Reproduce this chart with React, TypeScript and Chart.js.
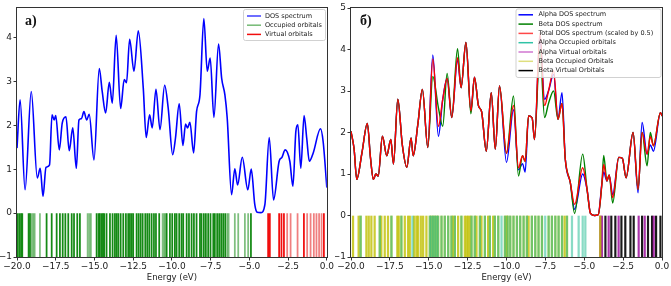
import React, { useEffect, useRef } from "react";
import { Chart, registerables } from "chart.js";

Chart.register(...registerables);
Chart.defaults.font.family = '"DejaVu Sans", sans-serif';

// ---------- Panel a) ----------
const leftEnergy = [-20, -19.8, -19.48, -19.08, -18.69, -18.5, -18.32, -18.13, -17.9, -17.74, -17.6, -17.5, -17.27, -17.08, -16.84, -16.63, -16.4, -16.17, -16.0, -15.84, -15.68, -15.5, -15.34, -15.03, -14.69, -14.5, -14.28, -14.04, -13.85, -13.6, -13.31, -13.08, -12.93, -12.73, -12.45, -12.17, -11.85, -11.66, -11.44, -11.27, -11.03, -10.77, -10.47, -10.24, -9.95, -9.77, -9.53, -9.29, -9.12, -8.99, -8.84, -8.6, -8.41, -8.19, -7.94, -7.72, -7.53, -7.29, -6.99, -6.79, -6.58, -6.43, -6.15, -5.94, -5.76, -5.46, -5.1, -4.88, -4.65, -4.5, -4.25, -4.0, -3.72, -3.44, -3.08, -2.9, -2.69, -2.39, -2.19, -2.0, -1.87, -1.68, -1.47, -1.3, -1.13, -0.88, -0.41, -0.24, 0];
const leftDos = [1.48, 2.58, 0.53, 2.77, 0.8, 1.02, 0.38, 1.04, 1.1, 2.24, 2.12, 2.22, 1.44, 2.05, 2.19, 1.42, 1.94, 1.02, 2.12, 2.15, 2.31, 2.12, 2.25, 1.21, 3.29, 2.77, 2.28, 2.98, 2.5, 4.05, 2.38, 3.04, 2.97, 3.96, 3.23, 4.15, 2.85, 1.72, 2.24, 1.94, 2.82, 1.9, 2.91, 2.39, 1.33, 1.71, 2.49, 1.54, 2.03, 1.94, 2.07, 1.37, 2.31, 2.69, 4.43, 3.23, 3.53, 2.18, 3.85, 3.07, 2.69, 2.16, 0.42, 1.01, 0.64, 1.27, 0.53, 1.0, 0.19, 0.02, 0.01, 0.19, 1.72, 0.3, 1.18, 1.27, 1.44, 1.18, 0.61, 1.86, 2.01, 1.02, 2.22, 1.71, 1.18, 1.37, 1.92, 1.63, 0.58];

const leftOccupied = [-19.96, -19.85, -19.74, -19.66, -19.25, -19.16, -19.05, -18.95, -18.86, -18.52, -18.09, -17.76, -17.44, -17.23, -17.05, -16.88, -16.69, -16.47, -16.32, -16.11, -15.94, -15.44, -15.33, -15.23, -14.86, -14.73, -14.65, -14.54, -14.45, -14.37, -14.22, -14.0, -13.83, -13.68, -13.57, -13.46, -13.31, -13.14, -12.97, -12.82, -12.71, -12.6, -12.5, -12.28, -12.15, -12.02, -11.89, -11.72, -11.59, -11.46, -11.31, -11.16, -11.03, -10.82, -10.6, -10.5, -10.41, -10.34, -10.13, -9.98, -9.81, -9.7, -9.53, -9.38, -9.27, -9.05, -8.9, -8.73, -8.58, -8.41, -8.19, -8.09, -7.94, -7.81, -7.66, -7.51, -7.33, -7.23, -7.08, -6.95, -6.82, -6.69, -6.56, -6.43, -6.34, -5.94, -5.72, -5.29, -5.08, -4.9];
const leftOccupiedDegeneracy = [2, 2, 2, 2, 2, 2, 1, 1, 1, 1, 2, 2, 2, 2, 2, 2, 2, 2, 2, 2, 2, 1, 1, 1, 2, 2, 2, 2, 2, 2, 2, 2, 2, 2, 2, 2, 2, 2, 2, 2, 2, 2, 2, 2, 2, 2, 2, 2, 2, 2, 2, 2, 2, 2, 1, 1, 1, 2, 2, 2, 2, 2, 2, 2, 2, 2, 2, 2, 2, 2, 2, 2, 2, 2, 2, 2, 2, 2, 2, 2, 2, 2, 2, 1, 1, 1, 1, 1, 1, 2];
const leftVirtual = [-3.79, -3.68, -3.08, -2.93, -2.77, -2.56, -2.34, -1.89, -1.48, -1.27, -1.05, -0.84, -0.67, -0.5, -0.34, -0.19];
const leftVirtualDegeneracy = [2, 2, 2, 2, 2, 1, 1, 1, 2, 1, 1, 1, 1, 1, 1, 2];

// ---------- Panel б) ----------
const rightEnergy = [-20, -19.8, -19.63, -19.3, -18.95, -18.75, -18.56, -18.4, -18.25, -17.98, -17.7, -17.44, -17.27, -16.99, -16.7, -16.41, -16.14, -16.0, -15.7, -15.41, -15.06, -14.74, -14.38, -14.1, -13.82, -13.52, -13.15, -12.92, -12.61, -12.29, -12.06, -11.8, -11.6, -11.3, -10.98, -10.72, -10.45, -10.0, -9.55, -9.23, -8.97, -8.8, -8.58, -8.35, -8.2, -7.85, -7.55, -7.3, -6.97, -6.69, -6.43, -6.22, -5.9, -5.62, -5.1, -4.82, -4.6, -4.35, -4.1, -3.86, -3.75, -3.54, -3.4, -3.17, -2.78, -2.55, -2.31, -1.86, -1.54, -1.28, -0.96, -0.75, -0.55, -0.1, 0];
const rightAlphaDos = [2.03, 1.6, 0.87, 1.5, 2.22, 1.4, 0.87, 1.0, 0.95, 1.91, 1.44, 1.83, 1.24, 2.8, 1.7, 1.16, 1.87, 1.44, 2.2, 3.04, 1.64, 3.87, 1.91, 2.8, 3.3, 2.36, 3.75, 3.08, 4.17, 2.52, 3.33, 2.64, 2.5, 1.55, 2.96, 1.6, 3.12, 1.28, 2.55, 1.1, 1.25, 1.05, 2.4, 2.35, 1.83, 4.3, 2.8, 3.0, 3.4, 2.32, 2.96, 1.36, 0.8, 0.15, 1.0, 0.63, 0.05, 0.0, 0.02, 0.79, 1.05, 0.83, 0.98, 0.5, 1.4, 1.38, 0.91, 2.0, 0.55, 2.24, 1.48, 1.7, 1.55, 2.48, 2.4];
const rightBetaDos = [2.03, 1.6, 0.87, 1.5, 2.22, 1.4, 0.87, 1.0, 0.95, 1.91, 1.44, 1.83, 1.24, 2.8, 1.7, 1.16, 1.87, 1.44, 2.2, 3.04, 1.64, 3.35, 2.6, 2.15, 3.42, 2.36, 4.02, 3.08, 4.17, 2.45, 3.33, 2.64, 2.5, 1.55, 2.96, 1.6, 3.12, 1.5, 2.88, 0.95, 1.44, 1.3, 2.4, 2.35, 1.83, 4.0, 2.36, 2.7, 3.0, 2.32, 2.7, 1.36, 0.8, 0.05, 1.48, 0.63, 0.05, 0.0, 0.02, 0.79, 1.45, 0.83, 0.98, 0.3, 1.4, 1.38, 0.91, 2.0, 0.63, 2.0, 1.2, 2.0, 1.68, 2.48, 2.4];
const rightTotalDos = [2.03, 1.6, 0.87, 1.5, 2.22, 1.4, 0.87, 1.0, 0.95, 1.91, 1.44, 1.83, 1.24, 2.8, 1.7, 1.16, 1.87, 1.44, 2.2, 3.04, 1.64, 3.77, 2.15, 2.8, 3.3, 2.36, 3.8, 3.08, 4.17, 2.52, 3.33, 2.64, 2.5, 1.55, 2.96, 1.6, 3.12, 1.5, 2.65, 1.15, 1.44, 1.3, 2.4, 2.35, 1.83, 4.4, 2.65, 3.0, 3.49, 2.32, 2.7, 1.36, 0.8, 0.27, 1.15, 0.63, 0.05, 0.0, 0.02, 0.79, 1.23, 0.83, 0.98, 0.43, 1.4, 1.38, 0.91, 2.0, 0.63, 2.0, 1.48, 1.9, 1.68, 2.48, 2.4];

const rightAlphaOccupied = [-19.38, -18.15, -17.4, -16.76, -16.05, -14.93, -14.83, -14.72, -14.61, -14.5, -14.4, -14.18, -13.97, -13.75, -13.54, -13.32, -12.9, -12.25, -12.04, -11.71, -11.39, -11.07, -10.75, -10.53, -10.32, -10.1, -9.93, -9.76, -9.55, -9.33, -9.12, -8.9, -8.69, -8.37, -8.15, -7.94, -7.72, -7.51, -7.29, -7.08, -6.86, -6.65, -6.43, -6.11, -5.79, -5.36, -5.1, -4.93];
const rightBetaOccupied = [-19.87, -19.51, -19.38, -19.01, -18.86, -18.69, -18.48, -18.15, -18.05, -17.83, -17.62, -17.4, -17.02, -16.93, -16.76, -16.54, -16.33, -16.22, -15.94, -15.79, -15.69, -15.51, -15.36, -15.15, -14.93, -14.83, -14.72, -14.61, -14.5, -14.4, -14.18, -13.97, -13.75, -13.54, -13.43, -13.32, -13.11, -12.9, -12.68, -12.57, -12.47, -12.36, -12.25, -12.04, -11.93, -11.71, -11.61, -11.39, -11.18, -11.07, -10.86, -10.75, -10.53, -10.1, -9.98, -9.93, -9.76, -9.55, -9.33, -9.12, -8.9, -8.69, -8.58, -8.37, -8.15, -7.94, -7.72, -7.29, -7.08, -6.86, -6.65, -6.43, -6.26, -6.11, -3.97];
const rightAlphaVirtual = [-3.97, -3.86, -3.43, -2.79, -1.5, -1.11, -0.53];
const rightBetaVirtual = [-3.64, -3.26, -3.0, -2.61, -2.36, -2.03, -1.82, -1.28, -0.9, -0.64, -0.38, -0.1];

const leftLegendLabels = ["DOS spectrum", "Occupied orbitals", "Virtual orbitals"];
const rightLegendLabels = [
  "Alpha DOS spectrum",
  "Beta DOS spectrum",
  "Total DOS spectrum (scaled by 0.5)",
  "Alpha Occupied orbitals",
  "Alpha Virtual orbitals",
  "Beta Occupied Orbitals",
  "Beta Virtual Orbitals",
];

const MINUS = "\u2212";
const fmtX = (v: any) => Number(v).toFixed(1).replace("-", MINUS);
const fmtY = (v: any) => String(v).replace("-", MINUS);

type LegendSpec = {
  x: number; y: number; w: number; h: number;
  lx0: number; lx1: number; tx: number;
  row0: number; gap: number;
  items: { label: string; color: string }[];
};

function overlayPlugin(panelLabel: string, lx: number, ly: number, legend: LegendSpec) {
  return {
    id: "overlay",
    afterDraw(chart: any) {
      const ctx: CanvasRenderingContext2D = chart.ctx;
      const a = chart.chartArea;
      ctx.save();
      ctx.strokeStyle = "#333";
      ctx.lineWidth = 1;
      const l = Math.round(a.left), t = Math.round(a.top), r = Math.round(a.right), b = Math.round(a.bottom);
      ctx.strokeRect(l - 0.5, t - 0.5, r - l + 1, b - t + 1);

      ctx.fillStyle = "#111";
      ctx.font = 'bold 14px "Liberation Serif", serif';
      ctx.textAlign = "left";
      ctx.textBaseline = "alphabetic";
      ctx.fillText(panelLabel, lx, ly);

      const L = legend;
      const rad = 2;
      ctx.beginPath();
      ctx.moveTo(L.x + rad, L.y);
      ctx.lineTo(L.x + L.w - rad, L.y);
      ctx.quadraticCurveTo(L.x + L.w, L.y, L.x + L.w, L.y + rad);
      ctx.lineTo(L.x + L.w, L.y + L.h - rad);
      ctx.quadraticCurveTo(L.x + L.w, L.y + L.h, L.x + L.w - rad, L.y + L.h);
      ctx.lineTo(L.x + rad, L.y + L.h);
      ctx.quadraticCurveTo(L.x, L.y + L.h, L.x, L.y + L.h - rad);
      ctx.lineTo(L.x, L.y + rad);
      ctx.quadraticCurveTo(L.x, L.y, L.x + rad, L.y);
      ctx.closePath();
      ctx.fillStyle = "rgba(255,255,255,0.8)";
      ctx.fill();
      ctx.strokeStyle = "rgba(204,204,204,0.9)";
      ctx.lineWidth = 1;
      ctx.stroke();

      ctx.font = '6.5px "DejaVu Sans", sans-serif';
      ctx.textBaseline = "middle";
      L.items.forEach((it, i) => {
        const y = L.row0 + i * L.gap;
        ctx.strokeStyle = it.color;
        ctx.lineWidth = 1.5;
        ctx.beginPath();
        ctx.moveTo(L.x + L.lx0, y);
        ctx.lineTo(L.x + L.lx1, y);
        ctx.stroke();
        ctx.fillStyle = "#222";
        ctx.fillText(it.label, L.x + L.tx, y);
      });
      ctx.restore();
    },
  };
}

function axes(yMax: number, yWidth: number) {
  return {
    x: {
      type: "linear",
      min: -20,
      max: 0,
      offset: false,
      ticks: { stepSize: 2.5, callback: fmtX, color: "#222", font: { size: 9 }, padding: 1, maxRotation: 0, autoSkip: false, includeBounds: false },
      grid: { drawOnChartArea: false, color: "#333", tickLength: 3.5, offset: false },
      border: { display: false },
      title: { display: true, text: "Energy (eV)", color: "#222", font: { size: 8.5 }, padding: { top: 0, bottom: 3 } },
      afterFit: (s: any) => { s.height = 29; },
    },
    y: {
      type: "linear",
      min: -1,
      max: yMax,
      ticks: { stepSize: 1, callback: fmtY, color: "#222", font: { size: 9 }, padding: 1.5, includeBounds: false },
      grid: { drawOnChartArea: false, color: "#333", tickLength: 3.5 },
      border: { display: false },
      afterFit: (s: any) => { s.width = yWidth; },
    },
  };
}

function sticks(label: string, energies: number[], colors: string | string[], thickness: number, order: number) {
  return {
    type: "bar",
    label,
    data: energies.map((e) => ({ x: e, y: [-1, 0] })),
    backgroundColor: colors,
    borderWidth: 0,
    barThickness: thickness,
    grouped: false,
    order,
  };
}

function curve(label: string, xs: number[], ys: number[], color: string, width: number, order: number) {
  return {
    type: "line",
    label,
    data: xs.map((x, i) => ({ x, y: ys[i] })),
    borderColor: color,
    borderWidth: width,
    pointRadius: 0,
    fill: false,
    cubicInterpolationMode: "monotone",
    order,
  };
}

const baseOptions = (padRight: number, yMax: number, yWidth: number) => ({
  responsive: false,
  animation: false,
  events: [],
  devicePixelRatio: 1,
  layout: { padding: { top: 8, right: padRight, left: 0, bottom: 0 } },
  plugins: { legend: { display: false }, tooltip: { enabled: false }, title: { display: false } },
  scales: axes(yMax, yWidth),
});

export default function App() {
  const leftRef = useRef<HTMLCanvasElement | null>(null);
  const rightRef = useRef<HTMLCanvasElement | null>(null);

  useEffect(() => {
    const left = new Chart(leftRef.current as HTMLCanvasElement, {
      type: "line",
      data: {
        datasets: [
          curve("DOS spectrum", leftEnergy, leftDos, "#0000ff", 1.6, 0),
          sticks("Occupied orbitals", leftOccupied, leftOccupiedDegeneracy.map((d) => (d > 1 ? "rgba(0,128,0,0.92)" : "rgba(0,128,0,0.5)")), 1.1, 1),
          sticks("Virtual orbitals", leftVirtual, leftVirtualDegeneracy.map((d) => (d > 1 ? "rgba(240,0,0,0.95)" : "rgba(225,0,0,0.5)")), 1.1, 2),
        ] as any,
      },
      options: baseOptions(8, 4.67, 17) as any,
      plugins: [
        overlayPlugin("a)", 25, 25, {
          x: 243.5, y: 9.5, w: 82, h: 31, lx0: 3.5, lx1: 17.5, tx: 21.5, row0: 16, gap: 9.2,
          items: [
            { label: leftLegendLabels[0], color: "rgba(40,40,255,0.9)" },
            { label: leftLegendLabels[1], color: "rgba(0,128,0,0.55)" },
            { label: leftLegendLabels[2], color: "rgba(240,0,0,0.95)" },
          ],
        }),
      ],
    });

    const right = new Chart(rightRef.current as HTMLCanvasElement, {
      type: "line",
      data: {
        datasets: [
          curve("Total DOS spectrum (scaled by 0.5)", rightEnergy, rightTotalDos, "#ff0000", 1.4, 0),
          curve("Beta DOS spectrum", rightEnergy, rightBetaDos, "#008000", 1.4, 1),
          curve("Alpha DOS spectrum", rightEnergy, rightAlphaDos, "#0000ff", 1.4, 2),
          sticks("Alpha Occupied orbitals", rightAlphaOccupied, "rgba(40,190,150,0.55)", 1.6, 3),
          sticks("Beta Occupied Orbitals", rightBetaOccupied, "rgba(191,191,0,0.8)", 1.6, 4),
          sticks("Alpha Virtual orbitals", rightAlphaVirtual, "rgba(150,0,150,0.8)", 1.5, 5),
          sticks("Beta Virtual Orbitals", rightBetaVirtual, "rgba(0,0,0,0.9)", 1.5, 6),
        ] as any,
      },
      options: baseOptions(9, 5, 16) as any,
      plugins: [
        overlayPlugin("б)", 25, 25, {
          x: 181, y: 9, w: 145, h: 68.5, lx0: 2.5, lx1: 17, tx: 22.5, row0: 14.8, gap: 9.3,
          items: [
            { label: rightLegendLabels[0], color: "#0000ff" },
            { label: rightLegendLabels[1], color: "#008000" },
            { label: rightLegendLabels[2], color: "rgba(255,40,40,0.85)" },
            { label: rightLegendLabels[3], color: "rgba(26,188,156,0.9)" },
            { label: rightLegendLabels[4], color: "rgba(190,60,190,0.7)" },
            { label: rightLegendLabels[5], color: "rgba(191,191,0,0.5)" },
            { label: rightLegendLabels[6], color: "#000" },
          ],
        }),
      ],
    });

    return () => {
      left.destroy();
      right.destroy();
    };
  }, []);

  return (
    <div style={{ position: "absolute", left: 0, top: 0, width: 671, height: 286, background: "#fff", overflow: "hidden" }}>
      <canvas ref={leftRef} width={335} height={286} style={{ position: "absolute", left: 0, top: 0, width: 335, height: 286 }} />
      <canvas ref={rightRef} width={336} height={286} style={{ position: "absolute", left: 335, top: 0, width: 336, height: 286 }} />
    </div>
  );
}
